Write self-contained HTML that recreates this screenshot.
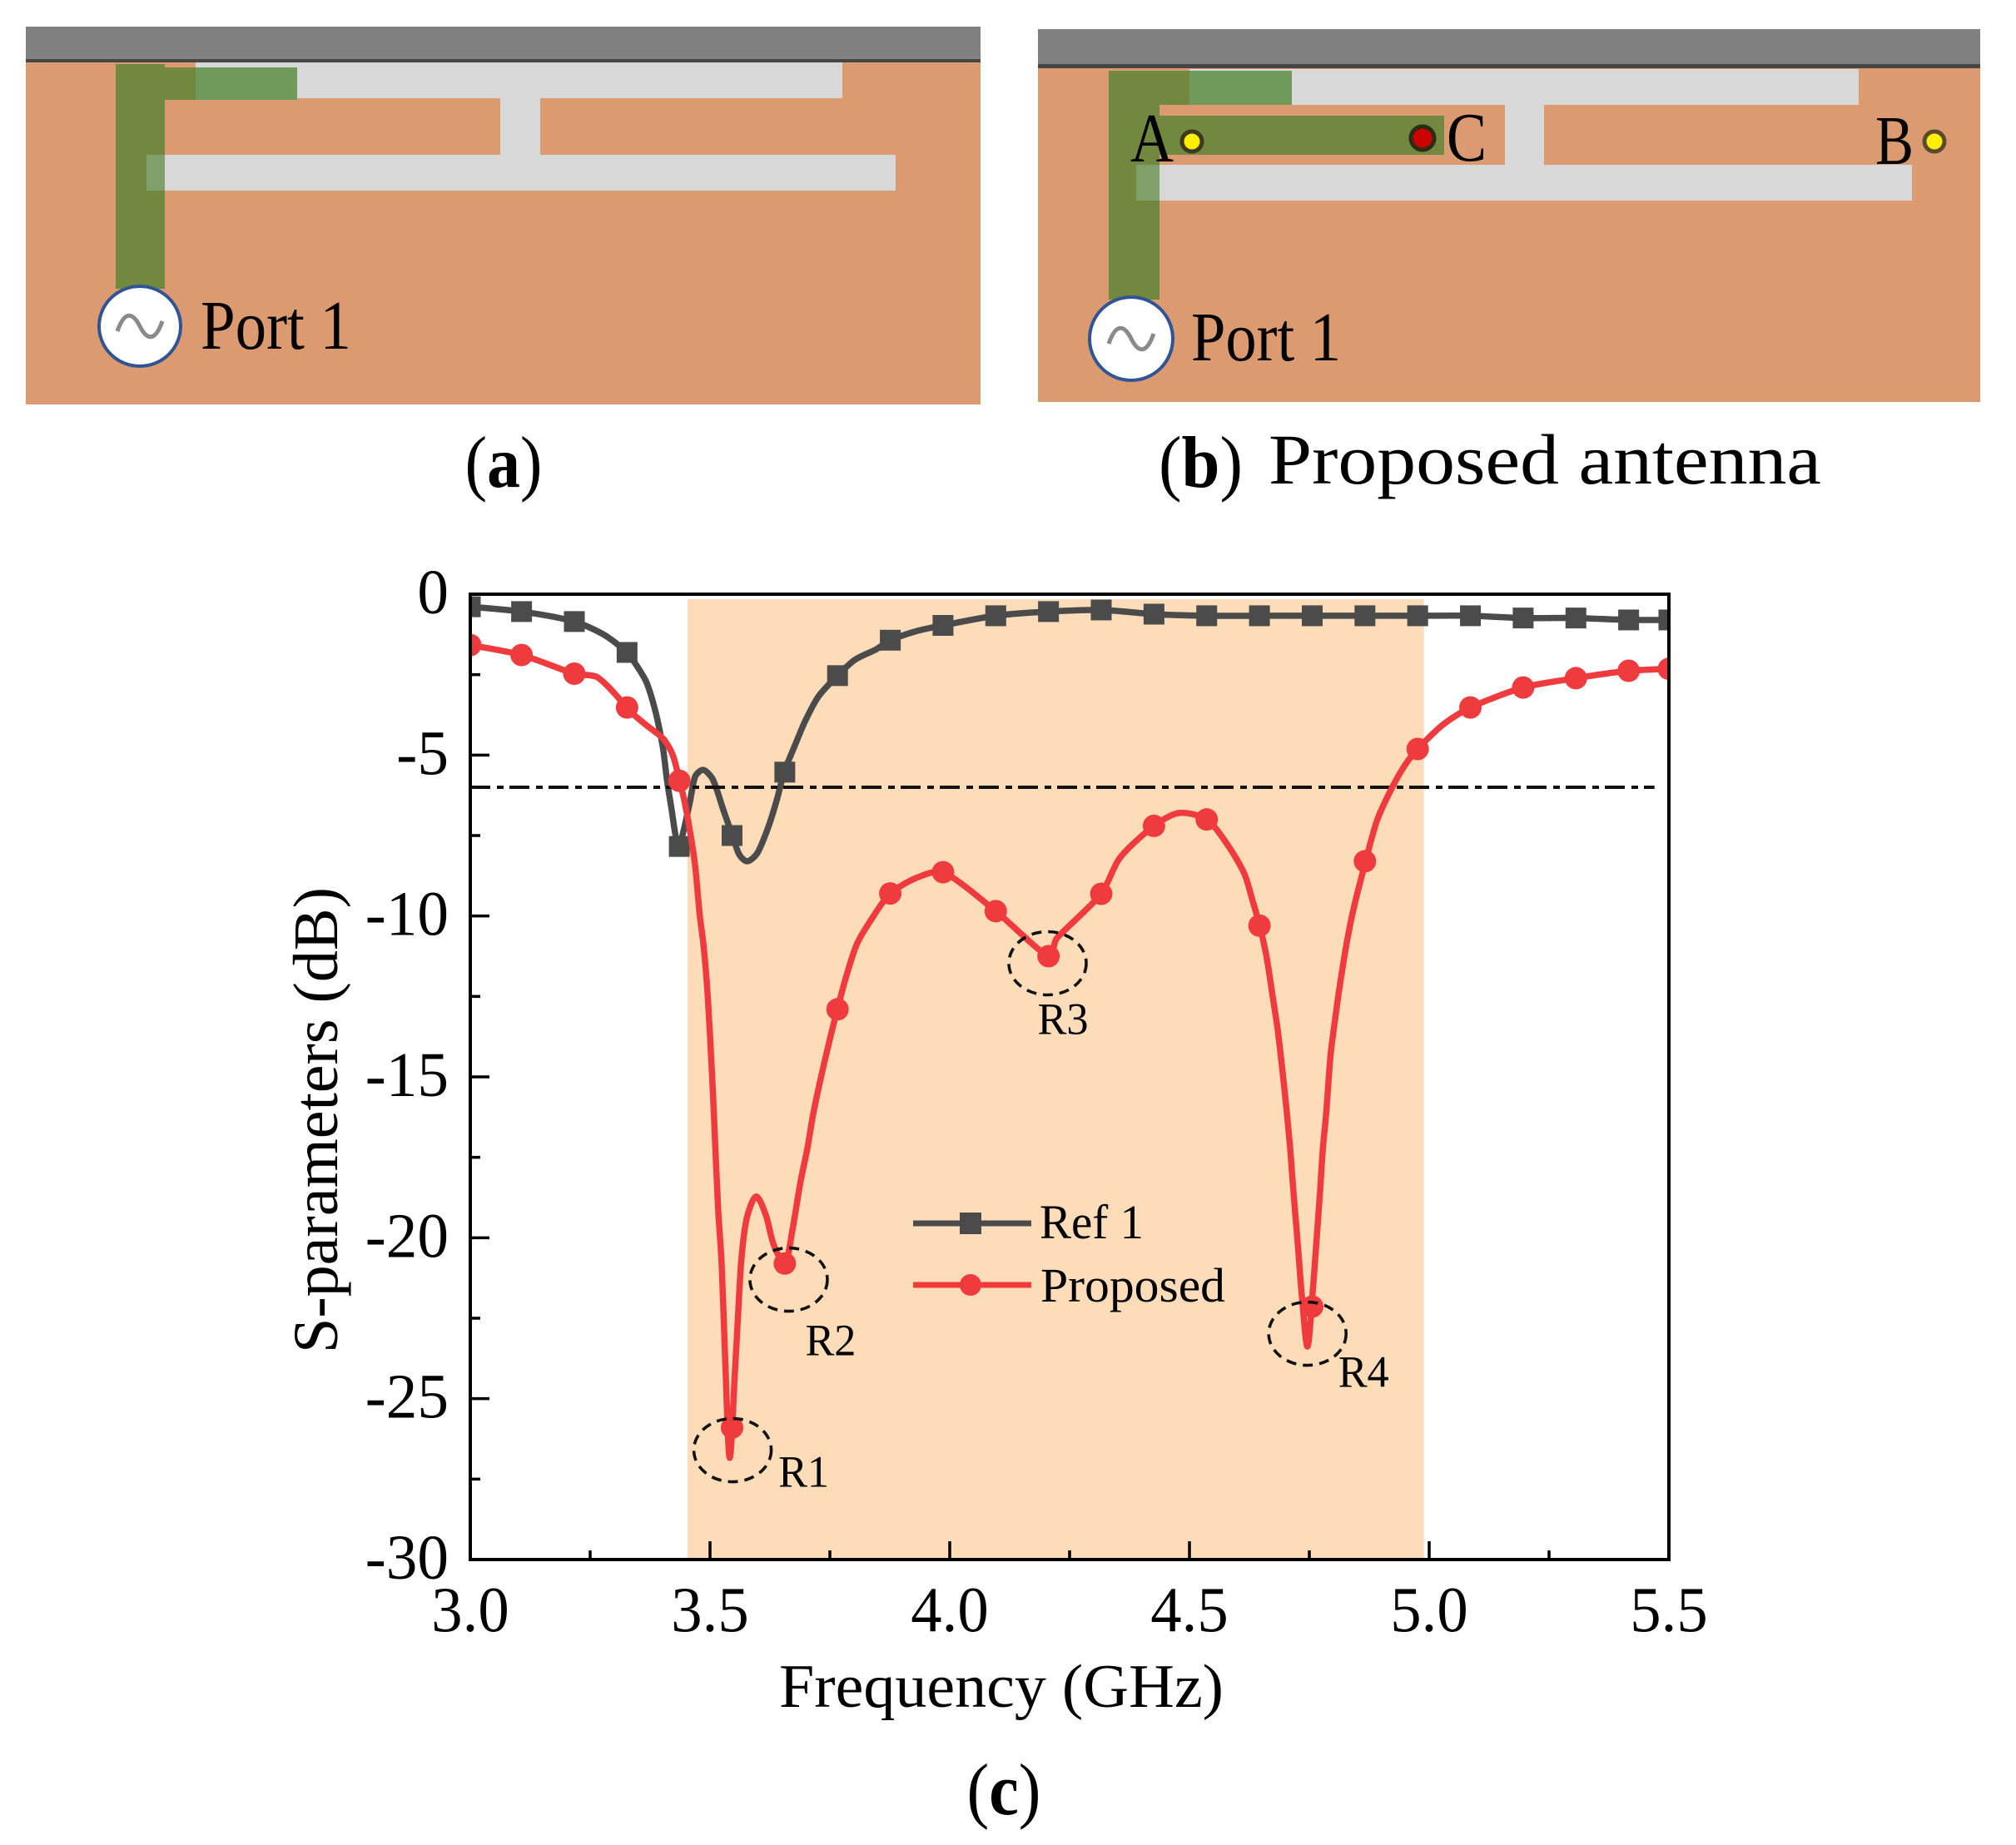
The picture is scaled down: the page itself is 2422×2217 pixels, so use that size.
<!DOCTYPE html>
<html lang="en">
<head>
<meta charset="utf-8">
<title>Antenna structures and S-parameters</title>
<style>
html,body{margin:0;padding:0;background:#fff;}
svg{display:block;}
text{font-family:"Liberation Serif","DejaVu Serif",serif;fill:#000;}
</style>
</head>
<body>
<svg id="figure" xmlns="http://www.w3.org/2000/svg" width="2422" height="2217" viewBox="0 0 2422 2217">
  <rect x="0" y="0" width="2422" height="2217" fill="#ffffff"/>

  <g>
    <rect x="31" y="73" width="1147" height="413" fill="#db9a6f"/>
    <rect x="31" y="32" width="1147" height="40" fill="#808080"/>
    <rect x="31" y="71" width="1147" height="4" fill="#454545"/>
    <rect x="235" y="75" width="777" height="43" fill="#d8d8d8"/>
    <rect x="601" y="118" width="48" height="68" fill="#d8d8d8"/>
    <rect x="176" y="186" width="900" height="43" fill="#d8d8d8"/>
    <rect x="235" y="81" width="122" height="39" fill="#6f9a5a"/>
    <rect x="139" y="81" width="96" height="39" fill="#73883f"/>
    <rect x="139" y="77" width="59" height="270" fill="#73883f"/>
    <rect x="176" y="186" width="22" height="43" fill="#7fa06a"/>
    <ellipse cx="168" cy="392" rx="49" ry="48" fill="#ffffff" stroke="#2f5597" stroke-width="4"/>
    <path d="M141 398 C150 372 160 376 168 392 C176 408 186 412 195 386" fill="none" stroke="#8a8a8a" stroke-width="5"/>
    <text x="241" y="419" font-size="84" textLength="181" lengthAdjust="spacingAndGlyphs">Port 1</text>
  </g>

  <g>
    <rect x="1247" y="80" width="1132" height="403" fill="#db9a6f"/>
    <rect x="1247" y="35" width="1132" height="43" fill="#808080"/>
    <rect x="1247" y="77" width="1132" height="5" fill="#454545"/>
    <rect x="1429" y="83" width="804" height="43" fill="#d8d8d8"/>
    <rect x="1808" y="126" width="47" height="72" fill="#d8d8d8"/>
    <rect x="1365" y="198" width="932" height="43" fill="#d8d8d8"/>
    <rect x="1429" y="85" width="123" height="41" fill="#6f9a5a"/>
    <rect x="1332" y="85" width="97" height="41" fill="#73883f"/>
    <rect x="1332" y="85" width="61" height="275" fill="#73883f"/>
    <rect x="1365" y="198" width="28" height="43" fill="#7fa06a"/>
    <rect x="1393" y="139" width="342" height="47" fill="#73883f"/>
    <circle cx="1432" cy="170" r="12" fill="#ffee00" stroke="#3a3a20" stroke-width="5"/>
    <circle cx="1709" cy="166" r="14" fill="#cc0000" stroke="#2c2c14" stroke-width="5"/>
    <circle cx="2324" cy="170" r="12" fill="#ffee00" stroke="#5a4a30" stroke-width="5"/>
    <text x="1358" y="194" font-size="84" textLength="52" lengthAdjust="spacingAndGlyphs">A</text>
    <text x="1738" y="193" font-size="84" textLength="48" lengthAdjust="spacingAndGlyphs">C</text>
    <text x="2253" y="197" font-size="84" textLength="46" lengthAdjust="spacingAndGlyphs">B</text>
    <ellipse cx="1359" cy="407" rx="50" ry="50" fill="#ffffff" stroke="#2f5597" stroke-width="4"/>
    <path d="M1332 413 C1341 387 1351 391 1359 407 C1367 423 1377 427 1386 401" fill="none" stroke="#8a8a8a" stroke-width="5"/>
    <text x="1431" y="433" font-size="84" textLength="180" lengthAdjust="spacingAndGlyphs">Port 1</text>
  </g>

  <text x="605" y="585" font-size="88" text-anchor="middle" textLength="93" lengthAdjust="spacingAndGlyphs">(<tspan font-weight="bold">a</tspan>)</text>
  <text x="1392" y="585" font-size="88" textLength="101" lengthAdjust="spacingAndGlyphs">(<tspan font-weight="bold">b</tspan>)</text>
  <text x="1524" y="581" font-size="86" textLength="664" lengthAdjust="spacingAndGlyphs">Proposed antenna</text>
  <text x="1206" y="2180" font-size="88" text-anchor="middle" textLength="89" lengthAdjust="spacingAndGlyphs">(<tspan font-weight="bold">c</tspan>)</text>

  <g id="chart"></g>
</svg>

<script>
// ---- chart data ----
const xTickLabels = ["3.0", "3.5", "4.0", "4.5", "5.0", "5.5"];
const xTickValues = [3.0, 3.5, 4.0, 4.5, 5.0, 5.5];
const xMinorValues = [3.25, 3.75, 4.25, 4.75, 5.25];
const yTickLabels = ["0", "-5", "-10", "-15", "-20", "-25", "-30"];
const yTickValues = [0, -5, -10, -15, -20, -25, -30];
const yMinorValues = [-2.5, -7.5, -12.5, -17.5, -22.5, -27.5];
const bandRange = [3.453, 4.989];
const referenceLevel = [-6];
const referenceRange = [3.0, 5.47];

const markerFreqs = [3.0, 3.107, 3.217, 3.327, 3.436, 3.546, 3.656, 3.766, 3.876, 3.986, 4.096, 4.206, 4.316, 4.426, 4.536, 4.646, 4.756, 4.866, 4.976, 5.086, 5.196, 5.306, 5.416, 5.5];
const ref1Markers = [-0.39, -0.54, -0.85, -1.81, -7.84, -7.5, -5.53, -2.53, -1.43, -0.97, -0.67, -0.54, -0.49, -0.62, -0.67, -0.67, -0.67, -0.67, -0.67, -0.67, -0.74, -0.74, -0.8, -0.8];
const proposedMarkers = [-1.58, -1.89, -2.47, -3.52, -5.8, -25.9, -20.8, -12.9, -9.3, -8.64, -9.85, -11.25, -9.31, -7.2, -7.0, -10.3, -22.14, -8.3, -4.81, -3.52, -2.9, -2.61, -2.38, -2.32];

const ref1CurveFreq = [3.0, 3.107, 3.217, 3.28, 3.327, 3.344, 3.3675, 3.387, 3.402, 3.41, 3.42, 3.428, 3.436, 3.457, 3.469, 3.486, 3.506, 3.53, 3.546, 3.561, 3.578, 3.599, 3.622, 3.64, 3.655, 3.674, 3.698, 3.726, 3.766, 3.802, 3.847, 3.876, 3.93, 3.986, 4.096, 4.206, 4.316, 4.426, 4.536, 4.646, 4.756, 4.866, 4.976, 5.086, 5.196, 5.306, 5.416, 5.5];
const ref1CurveDb = [-0.39, -0.54, -0.85, -1.27, -1.81, -2.15, -2.74, -3.69, -4.8, -5.76, -6.7, -7.48, -7.84, -6.54, -5.67, -5.46, -5.76, -6.8, -7.47, -8.09, -8.3, -8.04, -7.22, -6.36, -5.51, -4.81, -3.96, -3.18, -2.53, -2.04, -1.71, -1.43, -1.15, -0.97, -0.67, -0.54, -0.49, -0.62, -0.67, -0.67, -0.67, -0.67, -0.67, -0.67, -0.74, -0.74, -0.8, -0.8];

const proposedCurveFreq = [3.0, 3.107, 3.217, 3.266, 3.327, 3.344, 3.368, 3.403, 3.422, 3.436, 3.4456, 3.4566, 3.469, 3.4786, 3.486, 3.4936, 3.5005, 3.5064, 3.5122, 3.5174, 3.5238, 3.5283, 3.5325, 3.5411, 3.5521, 3.5585, 3.5654, 3.5769, 3.596, 3.6163, 3.6337, 3.6568, 3.6714, 3.6887, 3.7031, 3.7148, 3.7321, 3.7495, 3.7656, 3.7842, 3.8073, 3.842, 3.876, 3.93, 3.986, 4.096, 4.206, 4.223, 4.316, 4.355, 4.426, 4.478, 4.536, 4.58, 4.6146, 4.632, 4.6464, 4.661, 4.6724, 4.684, 4.6927, 4.7031, 4.71, 4.717, 4.7262, 4.7344, 4.746, 4.7564, 4.7651, 4.7726, 4.7783, 4.7853, 4.794, 4.8026, 4.8113, 4.8229, 4.8345, 4.846, 4.8606, 4.891, 4.923, 4.95, 4.976, 5.03, 5.086, 5.196, 5.306, 5.416, 5.5];
const proposedCurveDb = [-1.58, -1.89, -2.47, -2.59, -3.52, -3.78, -4.08, -4.5, -4.99, -5.76, -6.36, -7.22, -8.43, -9.98, -10.84, -12.13, -13.86, -15.6, -17.56, -19.22, -20.66, -22.4, -24.13, -26.84, -24.13, -22.4, -20.66, -19.37, -18.72, -19.29, -20.25, -20.77, -19.81, -18.26, -17.22, -16.19, -14.97, -13.86, -12.9, -11.87, -10.84, -9.98, -9.3, -8.82, -8.64, -9.85, -11.25, -10.7, -9.31, -8.19, -7.2, -6.8, -7.0, -7.8, -8.69, -9.54, -10.29, -11.28, -12.39, -13.53, -14.64, -16.11, -17.22, -18.59, -20.25, -21.8, -23.38, -21.8, -20.07, -18.52, -17.22, -16.11, -14.38, -13.34, -12.39, -11.28, -10.32, -9.54, -8.69, -7.04, -6, -5.3, -4.81, -4.04, -3.52, -2.9, -2.61, -2.38, -2.32];

const resonanceLabels = ["R1", "R2", "R3", "R4"];
const resonanceFreq = [3.547, 3.664, 4.204, 4.746];
const resonanceDb = [-26.6, -21.3, -11.47, -22.98];
const legendLabels = ["Ref 1", "Proposed"];

// ---- axes ----
const PLOT = {left: 565, right: 2005, top: 714, bottom: 1874};
function xScale(f) { return PLOT.left + (f - 3.0) / 2.5 * (PLOT.right - PLOT.left); }
function yScale(db) { return PLOT.top + (-db) / 30 * (PLOT.bottom - PLOT.top); }

const NS = "http://www.w3.org/2000/svg";
const chart = document.getElementById("chart");
function make(tag, attrs, parent) {
  const el = document.createElementNS(NS, tag);
  for (const k in attrs) el.setAttribute(k, attrs[k]);
  (parent || chart).appendChild(el);
  return el;
}
function smoothPath(xs, ys) {
  const pts = xs.map((f, i) => [xScale(f), yScale(ys[i])]);
  let d = "M" + pts[0][0].toFixed(1) + " " + pts[0][1].toFixed(1);
  for (let i = 0; i < pts.length - 1; i++) {
    const p0 = pts[Math.max(i - 1, 0)], p1 = pts[i], p2 = pts[i + 1], p3 = pts[Math.min(i + 2, pts.length - 1)];
    const k = Math.min(1, Math.hypot(p2[0]-p1[0], p2[1]-p1[1]) / Math.max(1, Math.hypot(p2[0]-p0[0], p2[1]-p0[1])) * 1.6);
    const k2 = Math.min(1, Math.hypot(p2[0]-p1[0], p2[1]-p1[1]) / Math.max(1, Math.hypot(p3[0]-p1[0], p3[1]-p1[1])) * 1.6);
    const c1x = p1[0] + (p2[0] - p0[0]) / 6 * k, c1y = p1[1] + (p2[1] - p0[1]) / 6 * k;
    const c2x = p2[0] - (p3[0] - p1[0]) / 6 * k2, c2y = p2[1] - (p3[1] - p1[1]) / 6 * k2;
    d += "C" + c1x.toFixed(1) + " " + c1y.toFixed(1) + " " + c2x.toFixed(1) + " " + c2y.toFixed(1) + " " + p2[0].toFixed(1) + " " + p2[1].toFixed(1);
  }
  return d;
}
function squeeze(el, factor) {
  el.setAttribute("textLength", (el.getComputedTextLength() * factor).toFixed(1));
  el.setAttribute("lengthAdjust", "spacingAndGlyphs");
}

// clip
const defs = make("defs", {});
const clip = make("clipPath", {id: "plot-clip"}, defs);
make("rect", {x: PLOT.left, y: PLOT.top, width: PLOT.right - PLOT.left, height: PLOT.bottom - PLOT.top}, clip);

// band
const band = make("rect", {x: xScale(bandRange[0]), y: PLOT.top + 6, width: xScale(bandRange[1]) - xScale(bandRange[0]), height: PLOT.bottom - PLOT.top - 6, fill: "#fddcba"});



// series
const COLORS = {ref1: "#4b4b4b", proposed: "#ef3b3e"};
const plotGroup = make("g", {"clip-path": "url(#plot-clip)"});



const ref1Line = make("path", {d: smoothPath(ref1CurveFreq, ref1CurveDb), fill: "none", stroke: COLORS.ref1, "stroke-width": 7.5, "stroke-linejoin": "round"}, plotGroup);



markerFreqs.forEach(function (f, i) {
  const m = make("rect", {x: xScale(f) - 12.5, y: yScale(ref1Markers[i]) - 12.5, width: 25, height: 25, fill: COLORS.ref1}, plotGroup);
  
  
});

// reference line
const refLine = make("line", {x1: xScale(referenceRange[0]), x2: xScale(referenceRange[1]), y1: yScale(referenceLevel[0]), y2: yScale(referenceLevel[0]), stroke: "#111", "stroke-width": 4, "stroke-dasharray": "24 8 8 7"}, plotGroup);



const propLine = make("path", {d: smoothPath(proposedCurveFreq, proposedCurveDb), fill: "none", stroke: COLORS.proposed, "stroke-width": 7.5, "stroke-linejoin": "round"}, plotGroup);



markerFreqs.forEach(function (f, i) {
  const m = make("circle", {cx: xScale(f), cy: yScale(proposedMarkers[i]), r: 13.5, fill: COLORS.proposed}, plotGroup);
  
  
});

// resonance rings and labels
const LABEL_OFFSET = [[55, 44], [20, 91], [-12, 85], [37, 64]];
resonanceLabels.forEach(function (lab, i) {
  const cx = xScale(resonanceFreq[i]), cy = yScale(resonanceDb[i]);
  const ring = make("ellipse", {cx: cx, cy: cy, rx: 46.5, ry: 38, fill: "none", stroke: "#111", "stroke-width": 3.6, "stroke-dasharray": "12 8"});
  
  
  const t = make("text", {x: cx + LABEL_OFFSET[i][0], y: cy + LABEL_OFFSET[i][1], "font-size": 54, textLength: 61, lengthAdjust: "spacingAndGlyphs"});
  t.textContent = lab;
  
  
});

// ticks
yTickValues.forEach(function (v, i) {
  const y = yScale(v);
  const tick = make("line", {x1: PLOT.left, x2: PLOT.left + 23, y1: y, y2: y, stroke: "#000", "stroke-width": 3.5});
  
  
  const t = make("text", {x: 539, y: y + 23, "font-size": 76, "text-anchor": "end"});
  t.textContent = yTickLabels[i];
  
  
  squeeze(t, 0.99);
});
yMinorValues.forEach(function (v) {
  const y = yScale(v);
  const tick = make("line", {x1: PLOT.left, x2: PLOT.left + 12, y1: y, y2: y, stroke: "#000", "stroke-width": 3.5});
  
  
});
xTickValues.forEach(function (v, i) {
  const x = xScale(v);
  const tick = make("line", {x1: x, x2: x, y1: PLOT.bottom, y2: PLOT.bottom - 22, stroke: "#000", "stroke-width": 3.5});
  
  
  const t = make("text", {x: x, y: 1960, "font-size": 77, "text-anchor": "middle"});
  t.textContent = xTickLabels[i];
  
  
  squeeze(t, 0.97);
});
xMinorValues.forEach(function (v) {
  const x = xScale(v);
  const tick = make("line", {x1: x, x2: x, y1: PLOT.bottom, y2: PLOT.bottom - 11, stroke: "#000", "stroke-width": 3.5});
  
  
});

// frame
const frame = make("rect", {x: PLOT.left, y: PLOT.top, width: PLOT.right - PLOT.left, height: PLOT.bottom - PLOT.top, fill: "none", stroke: "#000", "stroke-width": 4});



// axis titles
const xTitle = make("text", {x: 936, y: 2051, "font-size": 74, textLength: 534, lengthAdjust: "spacingAndGlyphs"});
xTitle.textContent = "Frequency (GHz)";



const yTitle = make("text", {transform: "translate(405 1626) rotate(-90)", x: 0, y: 0, "font-size": 76, textLength: 560, lengthAdjust: "spacingAndGlyphs"});
yTitle.textContent = "S-parameters (dB)";



// legend
const legend = make("g", {});



const lg1 = make("line", {x1: 1097, x2: 1239, y1: 1470, y2: 1470, stroke: COLORS.ref1, "stroke-width": 7}, legend);


const lm1 = make("rect", {x: 1153, y: 1457, width: 26, height: 26, fill: COLORS.ref1}, legend);


const lt1 = make("text", {x: 1249, y: 1488, "font-size": 58, textLength: 125, lengthAdjust: "spacingAndGlyphs"}, legend);
lt1.textContent = legendLabels[0];



const lg2 = make("line", {x1: 1097, x2: 1239, y1: 1544, y2: 1544, stroke: COLORS.proposed, "stroke-width": 7}, legend);


const lm2 = make("circle", {cx: 1166, cy: 1544, r: 13, fill: COLORS.proposed}, legend);


const lt2 = make("text", {x: 1250, y: 1564, "font-size": 58, textLength: 222, lengthAdjust: "spacingAndGlyphs"}, legend);
lt2.textContent = legendLabels[1];


</script>
</body>
</html>
